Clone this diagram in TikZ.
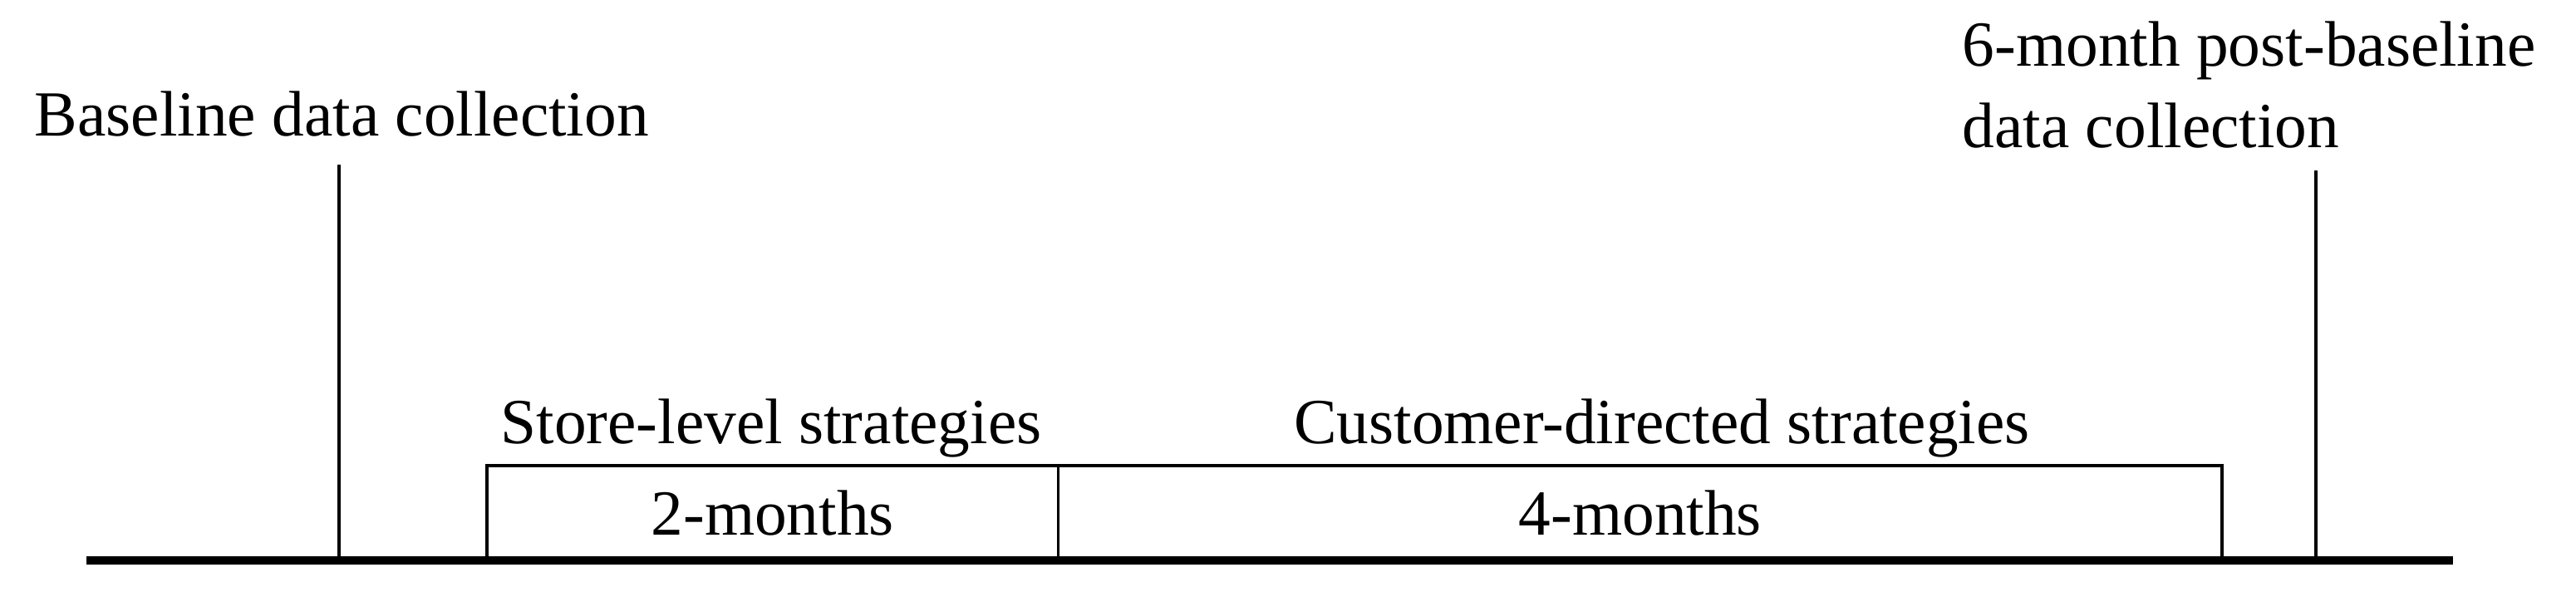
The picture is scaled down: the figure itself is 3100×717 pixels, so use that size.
\documentclass[tikz,border=0pt]{standalone}
\usepackage{fontspec}
\setmainfont{Liberation Serif}
\begin{document}
\begin{tikzpicture}[x=0.01cm,y=-0.01cm,
  lbl/.style={inner sep=0pt,font=\fontsize{22}{27.6}\selectfont},
  seg/.style={draw,line width=1pt,minimum height=1.14cm,inner sep=0pt,outer sep=0pt,anchor=south west,font=\fontsize{22}{27.6}\selectfont},
  marker/.style={line width=1pt}]
\useasboundingbox(0,0)rectangle(3100,717);
% phases
\node[seg,minimum width=6.87cm](two)at(586,674){2-months};
\node[seg,minimum width=14cm](four)at(two.south east){4-months};
\node[lbl,anchor=base](store)at(928,533){Store-level strategies};
\node[lbl,anchor=base](cust)at(2000,533){Customer-directed strategies};
% time line
\coordinate(a0)at(104,674);\coordinate(a1)at(2952,674);
\draw[line width=2.85pt](a0)--(a1);
\coordinate(b0)at(408,674);\coordinate(b1)at(408,198);
\coordinate(p0)at(2787,674);\coordinate(p1)at(2787,205);
\draw[marker](b0)--(b1);
\draw[marker](p0)--(p1);
\node[lbl,anchor=base west](base)at(41,163){Baseline data collection};
\node[lbl,anchor=base west,align=left](post)at(2361,177){6-month post-baseline\\data collection};
\end{tikzpicture}
\end{document}
